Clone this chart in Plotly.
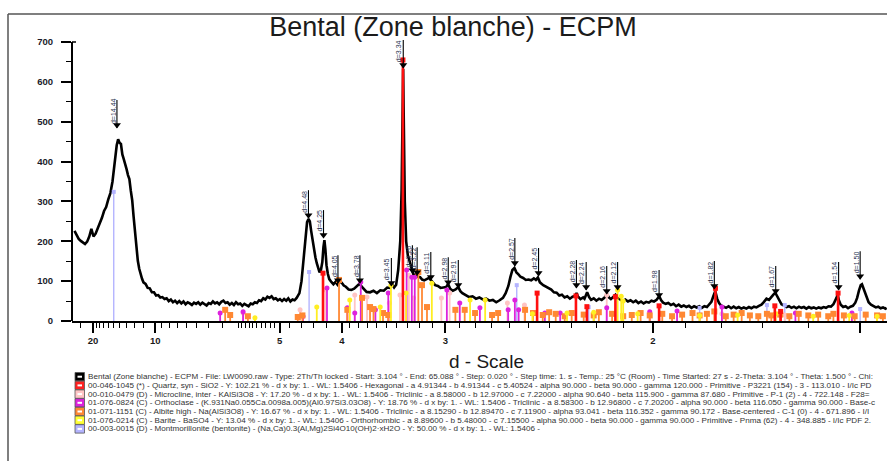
import math
import plotly.graph_objects as go

WAVELENGTH = 1.5406

# ---------------- data ----------------
two_theta = [
    3.1, 3.25, 3.4, 3.55, 3.7, 3.85, 4.0, 4.15, 4.3, 4.45, 4.6, 4.75, 4.9, 5.05, 5.2, 5.35, 5.5, 5.65, 5.8, 5.9,
    6.0, 6.1, 6.2, 6.3, 6.4, 6.5, 6.6, 6.7, 6.8, 6.9, 7.0, 7.1, 7.2, 7.3, 7.4, 7.5, 7.6, 7.7, 7.8, 7.9,
    8.0, 8.15, 8.3, 8.45, 8.6, 8.75, 8.9, 9.05, 9.2, 9.35, 9.5, 9.65, 9.8, 9.95, 10.1, 10.25, 10.4, 10.55,
    10.7, 10.85, 11.0, 11.15, 11.3, 11.45, 11.6, 11.75, 11.9, 12.05, 12.2, 12.35, 12.5, 12.65, 12.8, 12.95,
    13.1, 13.25, 13.4, 13.55, 13.7, 13.85, 14.0, 14.15, 14.3, 14.45, 14.6, 14.75, 14.9, 15.05, 15.2, 15.35,
    15.5, 15.65, 15.8, 15.95, 16.1, 16.25, 16.4, 16.55, 16.7, 16.85, 17.0, 17.15, 17.3, 17.45, 17.6, 17.75,
    17.9, 18.05, 18.2, 18.35, 18.5, 18.65, 18.8, 18.95,
    19.15, 19.3, 19.4, 19.5, 19.6, 19.7, 19.8, 19.9, 20.0, 20.1, 20.2, 20.3, 20.4,
    20.5, 20.6, 20.7, 20.8, 20.88, 20.95, 21.02, 21.1, 21.2, 21.3, 21.45, 21.6, 21.75, 21.9, 22.05, 22.2,
    22.35, 22.5, 22.7, 22.9, 23.1, 23.3, 23.5, 23.65, 23.8, 24.0, 24.25, 24.5, 24.75, 25.0, 25.25, 25.5,
    25.7, 25.85, 26.0, 26.15, 26.3, 26.45, 26.55, 26.62, 26.66, 26.7, 26.78, 26.88, 27.0, 27.15, 27.3,
    27.45, 27.6, 27.75, 27.9, 28.05, 28.2, 28.4, 28.55, 28.7, 28.85, 29.0, 29.2, 29.4, 29.6, 29.8, 29.95,
    30.1, 30.3, 30.5, 30.7, 30.85, 31.0, 31.25, 31.5, 31.75, 32.0, 32.25, 32.5, 32.75, 33.0, 33.25, 33.5,
    33.75, 34.0, 34.2, 34.4, 34.55, 34.7, 34.85, 35.0, 35.15, 35.3, 35.5, 35.7, 35.9, 36.1, 36.3, 36.45,
    36.6, 36.75,
    37.0, 37.2, 37.4, 37.6, 37.8, 38.0, 38.2, 38.4, 38.6, 38.8, 39.0, 39.2, 39.4, 39.5, 39.6, 39.8, 40.0,
    40.1, 40.3, 40.45, 40.6, 40.8, 41.0, 41.2, 41.4, 41.6, 41.8, 41.95, 42.1, 42.3, 42.45, 42.6, 42.8,
    43.0, 43.2, 43.4, 43.6, 43.8, 44.0, 44.2, 44.4, 44.6, 44.8, 45.0, 45.2, 45.4, 45.6, 45.8, 45.95, 46.1,
    46.3, 46.5, 46.7, 46.9, 47.1, 47.3, 47.5, 47.7, 47.9, 48.1, 48.3, 48.5, 48.7, 48.9, 49.1, 49.3, 49.5,
    49.7, 49.85, 50.0, 50.15, 50.3, 50.45, 50.6, 50.8, 51.0, 51.2, 51.4, 51.6, 51.8, 52.0, 52.2, 52.4,
    52.6, 52.8, 53.0, 53.2, 53.4, 53.6, 53.8, 54.0, 54.2, 54.4, 54.6, 54.75, 54.9, 55.05, 55.2, 55.4,
    55.6, 55.8, 56.0, 56.2, 56.4, 56.6, 56.8, 57.0, 57.2, 57.4, 57.6, 57.8, 58.0, 58.2, 58.4, 58.6, 58.8,
    59.0, 59.2, 59.4, 59.6, 59.75, 59.85, 59.95, 60.05, 60.2, 60.4, 60.6, 60.8, 61.0, 61.2, 61.4, 61.55,
    61.7, 61.85, 61.95, 62.05, 62.2, 62.35, 62.5, 62.7, 62.9, 63.1, 63.3, 63.5, 63.7, 63.9, 64.0,
]
counts = [
    226, 214, 206, 201, 197, 193, 199, 212, 231, 212, 219, 232, 247, 259, 276, 286, 305, 321, 350, 383,
    415, 441, 456, 447, 444, 418, 406, 389, 381, 366, 356, 327, 303, 262, 219, 186, 151, 131, 114, 106,
    97, 93, 83, 82, 72, 72, 64, 65, 59, 60, 55, 57, 50, 54, 47, 51, 45, 50,
    44, 49, 42, 47, 44, 40, 46, 43, 47, 41, 46, 42, 39, 45, 43, 49,
    44, 47, 42, 48, 51, 45, 47, 41, 45, 40, 47, 42, 44, 38, 43, 40,
    37, 44, 42, 47, 45, 52, 50, 57, 54, 61, 58, 62, 55, 57, 52, 55,
    50, 55, 51, 57, 49, 54, 52, 58,
    70, 100, 140, 185, 222, 248, 256, 250, 225, 200, 178, 160, 145,
    130, 122, 128, 148, 185, 203, 180, 140, 118, 105, 98, 92, 98, 91, 99, 96,
    89, 86, 79, 78, 81, 88, 94, 86, 80, 73, 72, 76, 70, 77, 76, 84,
    83, 92, 84, 91, 128, 200, 330, 540, 632, 520, 300, 200, 165, 148, 126,
    112, 118, 111, 110, 104, 102, 105, 108, 102, 97, 90, 88, 83, 84, 85, 93,
    81, 76, 79, 85, 75, 70, 66, 60, 62, 56, 59, 54, 56, 51, 53, 47,
    52, 58, 70, 88, 110, 128, 133, 122, 117, 111, 108, 103, 104, 102, 107, 103,
    109, 97,
    90, 86, 82, 79, 72, 71, 64, 66, 59, 62, 56, 61, 63, 70, 62, 55, 59,
    56, 72, 60, 53, 57, 51, 56, 53, 58, 68, 59, 55, 60, 66, 58, 55,
    50, 54, 49, 52, 47, 51, 45, 49, 44, 48, 46, 51, 49, 53, 62, 52, 46,
    43, 45, 40, 43, 37, 41, 36, 39, 35, 38, 33, 37, 34, 37, 33, 37, 35,
    41, 48, 62, 75, 56, 45, 39, 36, 33, 37, 32, 36, 32, 35, 31, 34,
    31, 35, 32, 36, 34, 38, 41, 48, 56, 53, 62, 66, 71, 63, 52, 42,
    39, 35, 37, 33, 36, 32, 36, 33, 35, 31, 35, 32, 34, 31, 34, 32, 35,
    33, 37, 36, 42, 50, 58, 66, 52, 41, 35, 37, 32, 36, 38, 46, 58,
    76, 90, 92, 84, 68, 56, 47, 41, 38, 34, 36, 32, 34, 31, 33,
]

# reference-pattern sticks (d in Angstrom, height in counts)
quartz_d = [4.257, 3.343, 2.457, 2.282, 2.237, 2.128, 1.980, 1.817, 1.672, 1.659, 1.541]
quartz_h = [120, 655, 70, 63, 36, 61, 38, 82, 38, 24, 70]

microcline_d = [5.86, 4.62, 4.22, 3.84, 3.70, 3.47, 3.37, 3.29, 3.25, 3.03, 2.97, 2.61, 2.52, 2.16, 1.80, 1.65]
microcline_h = [20, 28, 78, 65, 60, 45, 65, 115, 58, 58, 70, 45, 40, 65, 18, 15]

orthoclase_d = [6.57, 5.86, 4.57, 4.20, 3.93, 3.84, 3.77, 3.61, 3.48, 3.31, 3.265, 3.24, 2.99, 2.90, 2.77,
                2.606, 2.57, 2.55, 2.42, 2.35, 2.16, 2.01, 1.925, 1.80, 1.627, 1.515]
orthoclase_h = [20, 23, 12, 83, 33, 20, 98, 28, 70, 128, 110, 110, 78, 45, 33,
                28, 53, 28, 20, 20, 33, 23, 25, 35, 20, 20]

albite_d = [6.40, 6.24, 5.73, 4.66, 4.58, 4.036, 3.93, 3.755, 3.667, 3.63, 3.532, 3.48, 3.21, 3.18, 3.14,
            2.93, 2.867, 2.80, 2.697, 2.662, 2.517, 2.477, 2.43, 2.40, 2.37, 2.33, 2.30, 2.25, 2.21, 2.19,
            2.14, 2.10, 2.07, 2.04, 2.01, 1.97, 1.94, 1.91, 1.88, 1.86, 1.84, 1.82, 1.79, 1.77, 1.75, 1.73,
            1.71, 1.69, 1.68, 1.66, 1.64, 1.62, 1.60, 1.58, 1.56, 1.55, 1.53, 1.51, 1.49, 1.47, 1.46]
albite_h = [28, 15, 12, 10, 14, 103, 28, 58, 35, 30, 20, 15, 123, 90, 35,
            28, 28, 20, 15, 20, 28, 20, 15, 22, 18, 12, 20, 16, 14, 22,
            18, 12, 15, 20, 14, 18, 12, 16, 20, 14, 18, 24, 12, 16, 20, 14,
            12, 18, 14, 16, 12, 18, 14, 16, 12, 18, 14, 12, 16, 14, 12]

barite_d = [5.55, 4.35, 3.90, 3.56, 3.454, 3.315, 3.102, 2.832, 2.738, 2.48, 2.32, 2.21, 2.12, 2.107,
            2.10, 2.05, 1.86, 1.76, 1.67, 1.59, 1.52, 1.47]
barite_h = [8, 35, 53, 35, 90, 70, 95, 53, 53, 18, 20, 22, 78, 62, 50, 18, 14, 15, 18, 12, 14, 12]

montmorillonite_d = [15.0, 4.47, 2.56, 2.23, 1.86, 1.69, 1.65, 1.50]
montmorillonite_h = [324, 123, 90, 35, 33, 40, 40, 30]

# peak labels of the measured pattern
peak_labels = ["d=14.44", "d=4.48", "d=4.25", "d=4.05", "d=3.78", "d=3.45", "d=3.34", "d=3.26",
               "d=3.22", "d=3.11", "d=2.98", "d=2.91", "d=2.57", "d=2.45", "d=2.28", "d=2.24",
               "d=2.16", "d=2.12", "d=1.98", "d=1.82", "d=1.67", "d=1.54", "d=1.50"]
peak_d = [14.44, 4.48, 4.25, 4.05, 3.78, 3.45, 3.34, 3.26, 3.22, 3.11, 2.98, 2.91, 2.57, 2.45,
          2.28, 2.24, 2.16, 2.12, 1.98, 1.82, 1.67, 1.54, 1.50]
peak_top = [484, 258, 208, 95, 95, 88, 635, 120, 115, 103, 90, 83, 138, 113,
            83, 78, 68, 78, 58, 80, 68, 78, 105]

# axis ticks (d values)
major_d = [20, 10, 5, 4, 3, 2, 1.5]
major_text = ["20", "10", "5", "4", "3", "2", ""]
minor_d = ([25, 19, 18, 17, 16, 15, 14, 13, 12, 11, 9.5, 9, 8.5, 8, 7.5, 7, 6.5, 6,
            5.9, 5.8, 5.7, 5.6, 5.5, 5.4, 5.3, 5.2, 5.1, 4.8, 4.6, 4.4, 4.2,
            3.9, 3.8, 3.7, 3.6, 3.5, 3.4, 3.3, 3.2, 3.1,
            2.9, 2.8, 2.7, 2.6, 2.5, 2.4, 2.3, 2.2, 2.1,
            1.9, 1.8, 1.7, 1.6])
y_major = [0, 100, 200, 300, 400, 500, 600, 700]
y_minor = [50, 150, 250, 350, 450, 550, 650]

title_text = "Bental (Zone blanche) - ECPM"
x_title = "d - Scale"
legend_lines = [
    "Bental (Zone blanche) - ECPM - File: LW0090.raw - Type: 2Th/Th locked - Start: 3.104 ° - End: 65.088 ° - Step: 0.020 ° - Step time: 1. s - Temp.: 25 °C (Room) - Time Started: 27 s - 2-Theta: 3.104 ° - Theta: 1.500 ° - Chi:",
    "00-046-1045 (*) - Quartz, syn - SiO2 - Y: 102.21 % - d x by: 1. - WL: 1.5406 - Hexagonal - a 4.91344 - b 4.91344 - c 5.40524 - alpha 90.000 - beta 90.000 - gamma 120.000 - Primitive - P3221 (154) - 3 - 113.010 - I/Ic PD",
    "00-010-0479 (D) - Microcline, inter - KAlSi3O8 - Y: 17.20 % - d x by: 1. - WL: 1.5406 - Triclinic - a 8.58000 - b 12.97000 - c 7.22000 - alpha 90.640 - beta 115.900 - gamma 87.680 - Primitive - P-1 (2) - 4 - 722.148 - F28=",
    "01-076-0824 (C) - Orthoclase - (K.931Na0.055Ca.0098a.005)(Al0.97Si3.03O8) - Y: 18.76 % - d x by: 1. - WL: 1.5406 - Triclinic - a 8.58300 - b 12.96800 - c 7.20200 - alpha 90.000 - beta 116.050 - gamma 90.000 - Base-c",
    "01-071-1151 (C) - Albite high - Na(AlSi3O8) - Y: 16.67 % - d x by: 1. - WL: 1.5406 - Triclinic - a 8.15290 - b 12.89470 - c 7.11900 - alpha 93.041 - beta 116.352 - gamma 90.172 - Base-centered - C-1 (0) - 4 - 671.896 - I/I",
    "01-076-0214 (C) - Barite - BaSO4 - Y: 13.04 % - d x by: 1. - WL: 1.5406 - Orthorhombic - a 8.89600 - b 5.48000 - c 7.15500 - alpha 90.000 - beta 90.000 - gamma 90.000 - Primitive - Pnma (62) - 4 - 348.885 - I/Ic PDF 2.",
    "00-003-0015 (D) - Montmorillonite (bentonite) - (Na,Ca)0.3(Al,Mg)2Si4O10(OH)2·xH2O - Y: 50.00 % - d x by: 1. - WL: 1.5406 -",
]
legend_colors = ["#000000", "#ff2020", "#ffc4c4", "#dd22dd", "#ff8833", "#ffff33", "#b4b4ff"]

# ---------------- layout geometry ----------------
W, H = 887, 461
ML, MR, MT, MB = 72, 0, 21, 140
PW = W - ML - MR
PH = H - MT - MB
PX_PER_COUNT = 279.0 / 700.0
YMAX = PH / PX_PER_COUNT
X_LO, X_HI = 0.033125, 0.68825


def q_tt(tt):
    return 2.0 * math.sin(math.radians(tt / 2.0)) / WAVELENGTH


def paper_x(xp):
    return (xp - ML) / PW


def paper_y(yp):
    return (H - MB - yp) / PH


def sticks(ds, hs):
    xs, ys = [], []
    for d, h in zip(ds, hs):
        xs += [1.0 / d, 1.0 / d, None]
        ys += [0, h, None]
    return xs, ys


fig = go.Figure()

# measured pattern
fig.add_trace(go.Scatter(x=[q_tt(t) for t in two_theta], y=counts, mode="lines",
                         line=dict(color="black", width=2.6), hoverinfo="skip", showlegend=False))

phases = [
    (montmorillonite_d, montmorillonite_h, "#b4b4ff", 1.4, "square", 4),
    (microcline_d, microcline_h, "#ffc4c4", 1.8, "circle", 5),
    (orthoclase_d, orthoclase_h, "#dd22dd", 1.8, "circle", 5),
    (albite_d, albite_h, "#ff8833", 1.8, "square", 6),
    (barite_d, barite_h, "#ffee22", 1.8, "circle", 5),
    (quartz_d, quartz_h, "#ff1010", 2.6, "square", 5),
]
for ds, hs, col, lw, sym, ms in phases:
    xs, ys = sticks(ds, hs)
    fig.add_trace(go.Scatter(x=xs, y=ys, mode="lines", line=dict(color=col, width=lw),
                             hoverinfo="skip", showlegend=False))
    fig.add_trace(go.Scatter(x=[1.0 / d for d in ds], y=hs, mode="markers",
                             marker=dict(color=col, symbol=sym, size=ms, line=dict(width=0)),
                             hoverinfo="skip", showlegend=False, cliponaxis=False))

# peak markers: vertical line + down triangle
LINE_LEN = 28 / PX_PER_COUNT
lx, ly = [], []
for d, t in zip(peak_d, peak_top):
    lx += [1.0 / d, 1.0 / d, None]
    ly += [t, t + LINE_LEN, None]
fig.add_trace(go.Scatter(x=lx, y=ly, mode="lines", line=dict(color="black", width=1.1),
                         hoverinfo="skip", showlegend=False))
fig.add_trace(go.Scatter(x=[1.0 / d for d in peak_d], y=[t + 3 / PX_PER_COUNT for t in peak_top],
                         mode="markers", marker=dict(symbol="triangle-down", size=7, color="black"),
                         hoverinfo="skip", showlegend=False, cliponaxis=False))

annotations = []
for lab, d, t in zip(peak_labels, peak_d, peak_top):
    annotations.append(dict(x=1.0 / d, y=t, xref="x", yref="y", text=lab, textangle=-90,
                            showarrow=False, xshift=-4, yshift=17,
                            font=dict(family="Arial", size=7, color="#2b3350")))

# x-axis title
annotations.append(dict(x=paper_x(487), y=paper_y(361), xref="paper", yref="paper", text=x_title,
                        showarrow=False, xanchor="center", yanchor="middle",
                        font=dict(family="Arial", size=19, color="#1a1a1a")))

# legend block
shapes = []
for i, (line, col) in enumerate(zip(legend_lines, legend_colors)):
    yc = 376.7 + 8.7 * i
    annotations.append(dict(x=paper_x(86), y=paper_y(yc), xref="paper", yref="paper", text=line,
                            showarrow=False, xanchor="left", yanchor="middle",
                            font=dict(family="Arial", size=8.1, color="#333333")))
    shapes.append(dict(type="rect", xref="paper", yref="paper",
                       x0=paper_x(75), x1=paper_x(84.5), y0=paper_y(yc + 4.2), y1=paper_y(yc - 4.2),
                       fillcolor=col, line=dict(color="#555555", width=0.8)))
    shapes.append(dict(type="rect", xref="paper", yref="paper",
                       x0=paper_x(77.5), x1=paper_x(82), y0=paper_y(yc + 1), y1=paper_y(yc - 1),
                       fillcolor="white", line=dict(width=0)))

# outer frame (top and left)
shapes.append(dict(type="line", xref="paper", yref="paper", x0=paper_x(8), x1=paper_x(W + 5),
                   y0=paper_y(14), y1=paper_y(14), line=dict(color="#555555", width=1.5)))
shapes.append(dict(type="line", xref="paper", yref="paper", x0=paper_x(8), x1=paper_x(8),
                   y0=paper_y(14), y1=paper_y(H + 5), line=dict(color="#555555", width=1.5)))
# y axis line (0..700) with small cap
shapes.append(dict(type="line", xref="paper", yref="paper", x0=0, x1=0,
                   y0=0, y1=700 / YMAX, line=dict(color="black", width=2)))
shapes.append(dict(type="line", xref="paper", yref="paper", x0=0, x1=paper_x(76),
                   y0=700 / YMAX, y1=700 / YMAX, line=dict(color="black", width=1.5)))

fig.update_layout(
    width=W, height=H,
    margin=dict(l=ML, r=MR, t=MT, b=MB, pad=0),
    paper_bgcolor="white", plot_bgcolor="white",
    title=dict(text=title_text, x=453 / W, xref="container", xanchor="center",
               y=1 - 27 / H, yref="container", yanchor="middle",
               font=dict(family="Arial", size=27, color="#1b1b1b")),
    xaxis=dict(range=[X_LO, X_HI], showgrid=False, zeroline=False,
               showline=True, linecolor="black", linewidth=2,
               tickmode="array", tickvals=[1.0 / d for d in major_d], ticktext=major_text,
               ticks="outside", ticklen=10, tickwidth=1.5, tickcolor="black",
               tickfont=dict(family="Arial", size=9.5, color="#1a1a1a", weight="bold"),
               minor=dict(tickmode="array", tickvals=[1.0 / d for d in minor_d],
                          ticks="outside", ticklen=5, tickwidth=1.2, tickcolor="black",
                          showgrid=False)),
    yaxis=dict(range=[0, YMAX], showgrid=False, zeroline=False, showline=False,
               tickmode="array", tickvals=y_major, ticktext=[str(v) for v in y_major],
               ticks="outside", ticklen=10, tickwidth=1.5, tickcolor="black",
               ticklabelstandoff=6,
               tickfont=dict(family="Arial", size=9.5, color="#1a1a2a", weight="bold"),
               minor=dict(tickmode="array", tickvals=y_minor, ticks="outside", ticklen=5,
                          tickwidth=1.2, tickcolor="black", showgrid=False)),
    annotations=annotations,
    shapes=shapes,
    showlegend=False,
)

fig.write_html("out.html")
